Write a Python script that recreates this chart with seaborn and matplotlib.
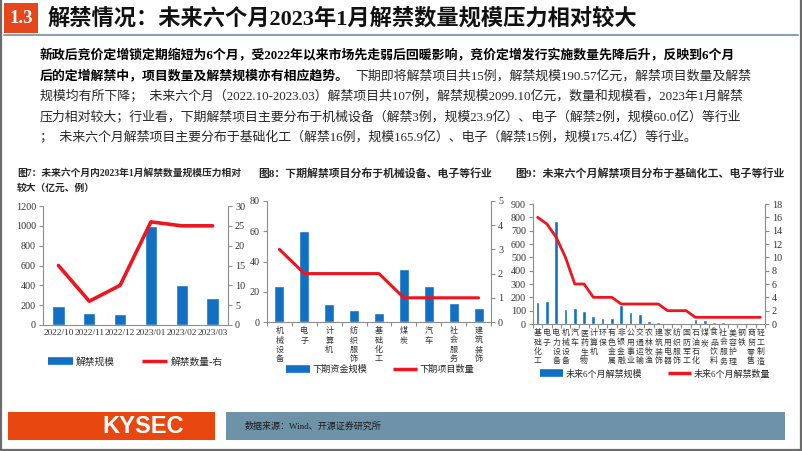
import numpy as np
import pandas as pd
import matplotlib
matplotlib.use('Agg')
import matplotlib.pyplot as plt
import seaborn as sns
from matplotlib.lines import Line2D
from matplotlib.patches import Rectangle

# ---------------- data ----------------
months = ['2022/10', '2022/11', '2022/12', '2023/01', '2023/02', '2023/03']
scale7 = [190, 125, 110, 1000, 400, 275]
count7 = [15, 6, 10, 26, 25, 25]

ind8 = ['机械设备', '电子', '计算机', '纺织服饰', '基础化工', '煤炭', '汽车', '社会服务', '建筑装饰']
scale8 = [23.9, 60.0, 11.6, 7.7, 5.9, 35.0, 23.7, 12.3, 9.5]
count8 = [3, 2, 2, 2, 2, 1, 1, 1, 1]

ind9 = ['基础化工', '电子', '电力设备', '机械设备', '汽车', '医药生物', '计算机', '环保', '有色金属',
        '非银金融', '公用事业', '交通运输', '农林牧渔', '建筑装饰', '家用电器', '纺织服饰', '国防军工',
        '石油石化', '煤炭', '食品饮料', '社会服务', '美容护理', '钢铁', '商贸零售', '轻工制造']
scale9 = [165.9, 175.4, 770, 113, 120, 100, 58, 48, 43, 145, 93, 78, 20, 12, 8, 7, 5,
          38, 30, 15, 12, 3, 2, 2, 1]
count9 = [16, 15, 13, 10, 6, 6, 4, 4, 4, 3, 3, 3, 3, 3, 2, 2, 2, 1, 1, 1, 1, 1, 1, 1, 1]

title = '解禁情况：未来六个月2023年1月解禁数量规模压力相对较大'
para_l1 = '新政后竞价定增锁定期缩短为6个月，受2022年以来市场先走弱后回暖影响，竞价定增发行实施数量先降后升，反映到6个月'
para_l2b = '后的定增解禁中，项目数量及解禁规模亦有相应趋势。'
para_l2n = '下期即将解禁项目共15例，解禁规模190.57亿元，解禁项目数量及解禁'
para_l3 = '规模均有所下降；  未来六个月（2022.10-2023.03）解禁项目共107例，解禁规模2099.10亿元，数量和规模看，2023年1月解禁'
para_l4 = '压力相对较大；行业看，下期解禁项目主要分布于机械设备（解禁3例，规模23.9亿）、电子（解禁2例，规模60.0亿）等行业'
para_l5 = '；  未来六个月解禁项目主要分布于基础化工（解禁16例，规模165.9亿）、电子（解禁15例，规模175.4亿）等行业。'

# ---------------- style ----------------
sns.set_style('white')
plt.rcParams['font.family'] = ['Liberation Serif', 'Noto Sans CJK SC', 'DejaVu Sans']
plt.rcParams['axes.unicode_minus'] = False

BLUE = '#1170C4'
RED = '#F0141E'
ORANGE = '#E5461B'
SPINE = '#8c8c8c'
TXT = '#262626'
CJK = ['Noto Sans CJK SC', 'DejaVu Sans']

W, H = 802, 451
fig = plt.figure(figsize=(8.02, 4.51), dpi=100)


def fx(x):
    return x / W


def fy(y):
    return 1 - y / H


# slide border
for xs, ys in [([1, 1], [0, 451]), ([800.5, 800.5], [0, 451]), ([0, 802], [449.5, 449.5])]:
    fig.add_artist(Line2D([fx(v) for v in xs], [fy(v) for v in ys], color='#6b6b6b', lw=1.6,
                          transform=fig.transFigure))

# header
fig.add_artist(Rectangle((fx(4), fy(33)), 34 / W, 30 / H, transform=fig.transFigure,
                         facecolor=ORANGE, edgecolor='none'))
fig.text(fx(21), fy(18.5), '1.3', color='white', fontsize=13.5, fontweight='bold',
         ha='center', va='center')
fig.text(fx(48), fy(18.5), title, fontsize=16, fontweight='bold', ha='left', va='center',
         color='#111111')
fig.add_artist(Line2D([fx(4), fx(798)], [fy(34.5), fy(34.5)], color='#8CA2B4', lw=1.5,
                      transform=fig.transFigure))

# paragraph
PFS = 9.3
fig.text(fx(40), fy(56), para_l1, fontsize=PFS, fontweight='bold', va='center', color='#000000')
renderer = fig.canvas.get_renderer()
tb = fig.text(fx(40), fy(76), para_l2b, fontsize=PFS, fontweight='bold', va='center', color='#000000')
bb = tb.get_window_extent(renderer=renderer)
fig.text((bb.x1 + 6) / W, fy(76), para_l2n, fontsize=PFS, va='center', color=TXT)
fig.text(fx(40), fy(97), para_l3, fontsize=PFS, va='center', color=TXT)
fig.text(fx(40), fy(118), para_l4, fontsize=PFS, va='center', color=TXT)
fig.text(fx(40), fy(138), para_l5, fontsize=PFS, va='center', color=TXT)

# chart titles
fig.text(fx(17), fy(173), '图7：未来六个月内2023年1月解禁数量规模压力相对', fontsize=7.0,
         fontweight='bold', va='center')
fig.text(fx(17), fy(188), '较大（亿元、例）', fontsize=7.0, fontweight='bold', va='center')
fig.text(fx(258), fy(173), '图8：下期解禁项目分布于机械设备、电子等行业', fontsize=7.8,
         fontweight='bold', va='center')
fig.text(fx(515), fy(173), '图9：未来六个月解禁项目分布于基础化工、电子等行业', fontsize=7.9,
         fontweight='bold', va='center')


def style(ax, ax2, minor=False):
    for a in (ax, ax2):
        a.spines['top'].set_visible(False)
        for s in ('left', 'right', 'bottom'):
            a.spines[s].set_color(SPINE)
            a.spines[s].set_linewidth(0.8)
        a.set_xlabel('')
        a.set_ylabel('')
    ax.spines['right'].set_visible(False)
    ax2.spines['left'].set_visible(False)
    ax2.spines['bottom'].set_visible(False)
    ax.tick_params(axis='y', direction='out', length=3, width=0.8, color=SPINE, labelsize=7.3,
                   pad=2, labelcolor='#333333', left=True)
    ax2.tick_params(axis='y', direction='out', length=3, width=0.8, color=SPINE, labelsize=7.3,
                    pad=2, labelcolor='#333333', right=True)
    ax.tick_params(axis='x', which='major', length=0, pad=3, labelcolor='#333333')
    if minor:
        n = len(ax.get_xticks())
        ax.set_xticks(np.arange(n + 1) - 0.5, minor=True)
        ax.tick_params(axis='x', which='minor', direction='out', length=3, width=0.8,
                       color=SPINE, bottom=True)


def combo(rect, cats, bars, line, ylim, yticks, y2lim, y2ticks, labels, xfs, lw, minor,
          lsp=1.0, fam=None):
    ax = fig.add_axes(rect)
    n = len(cats)
    df = pd.DataFrame({'cat': cats, 'val': bars, 'cnt': line, 'pos': np.arange(n)})
    sns.barplot(data=df, x='cat', y='val', color=BLUE, saturation=1, width=0.4, ax=ax)
    ax2 = ax.twinx()
    sns.lineplot(data=df, x='pos', y='cnt', color=RED, lw=lw, ax=ax2, sort=False)
    ax.set_xlim(-0.5, n - 0.5)
    ax.set_ylim(*ylim)
    ax.set_yticks(yticks)
    ax2.set_ylim(*y2lim)
    ax2.set_yticks(y2ticks)
    ax.set_xticks(np.arange(n))
    kw = dict(linespacing=lsp, va='top', fontsize=xfs)
    if fam is not None:
        kw['fontfamily'] = fam
    ax.set_xticklabels(labels, **kw)
    style(ax, ax2, minor)
    return ax, ax2


# chart 7
combo([fx(43), fy(325), (228 - 43) / W, (325 - 206) / H], months, scale7, count7,
      (0, 1200), np.arange(0, 1201, 200), (0, 30), np.arange(0, 31, 5),
      months, 6.7, 2.6, False)

# chart 8
combo([fx(267), fy(322), (491 - 267) / W, (322 - 201) / H], ind8, scale8, count8,
      (0, 80), np.arange(0, 81, 20), (0, 5), np.arange(0, 6, 1),
      ['\n'.join(s) for s in ind8], 5.8, 2.2, True, 1.05, CJK)

# chart 9
combo([fx(533), fy(324), (765 - 533) / W, (324 - 204) / H], ind9, scale9, count9,
      (0, 900), np.arange(0, 901, 100), (0, 18), np.arange(0, 19, 2),
      ['\n'.join(s) for s in ind9], 5.7, 2.0, True, 1.06, CJK)

# legends
def legend(cx, cy, labels, fs=7.0):
    h1 = Line2D([], [], color=BLUE, lw=5.5, solid_capstyle='butt')
    h2 = Line2D([], [], color=RED, lw=2.5, solid_capstyle='butt')
    fig.legend([h1, h2], labels, loc='center', bbox_to_anchor=(fx(cx), fy(cy)), ncol=2,
               frameon=False, fontsize=fs, handlelength=2.6, columnspacing=2.8,
               handletextpad=0.3, borderpad=0)


legend(135, 362, ['解禁规模', '解禁数量-右'])
legend(380, 369.5, ['下期资金规模', '下期项目数量'], 6.6)
legend(655, 374, ['未来6个月解禁规模', '未来6个月解禁数量'], 6.5)

# footer
fig.add_artist(Rectangle((fx(8), fy(440)), 207 / W, 28 / H, transform=fig.transFigure,
                         facecolor='#E8480F', edgecolor='none'))
fig.text(fx(143), fy(426.5), 'KYSEC', fontfamily='Liberation Sans', fontweight='bold',
         fontsize=17, color='white', ha='center', va='center')
fig.add_artist(Rectangle((fx(226), fy(440)), (785 - 226) / W, 28 / H, transform=fig.transFigure,
                         facecolor='#6E93A8', edgecolor='none'))
fig.text(fx(245), fy(426), '数据来源：Wind、开源证券研究所', fontsize=6.5, color='#1a1a1a',
         va='center')

fig.savefig('out.png', dpi=100)
